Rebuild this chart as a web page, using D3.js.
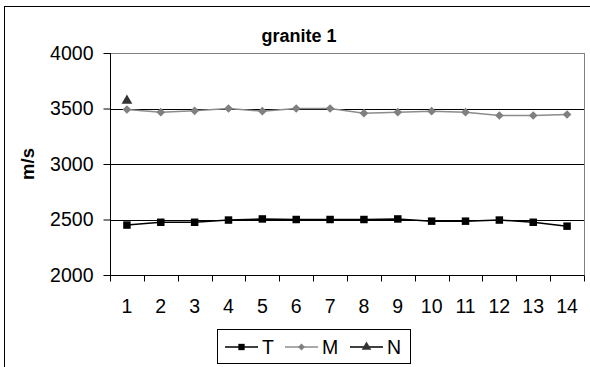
<!DOCTYPE html>
<html>
<head>
<meta charset="utf-8">
<script src="https://cdn.jsdelivr.net/npm/d3@7"></script>
<style>
  html, body { margin: 0; padding: 0; background: #fff; }
  svg { display: block; font-family: "Liberation Sans", Arial, sans-serif; }
</style>
</head>
<body>
<script>
// Sample positions along the granite block
const categories = ["1","2","3","4","5","6","7","8","9","10","11","12","13","14"];
// Wave velocities (m/s)
const seriesT = [2450, 2475, 2475, 2495, 2505, 2500, 2500, 2500, 2505, 2485, 2485, 2495, 2475, 2440];
const seriesM = [3491, 3467, 3479, 3500, 3476, 3500, 3500, 3458, 3467, 3476, 3467, 3437, 3437, 3446];
const seriesN = [3570];
const yTicks = [2000, 2500, 3000, 3500, 4000];
const seriesNames = ["T", "M", "N"];

const W = 590, H = 367;
const plot = { left: 110, top: 53, right: 584, bottom: 275 };

const svg = d3.select("body").append("svg").attr("width", W).attr("height", H);

// Outer chart border
svg.append("rect").attr("x", 4.5).attr("y", 6.5).attr("width", W + 10).attr("height", H + 10)
  .attr("fill", "#fff").attr("stroke", "#000").attr("stroke-width", 1);

const x = d3.scaleBand().domain(categories).range([plot.left, plot.right]);
const y = d3.scaleLinear().domain([2000, 4000]).range([plot.bottom, plot.top]);
const cx = c => x(c) + x.bandwidth() / 2;

// Plot area border
svg.append("rect").attr("x", plot.left + 0.5).attr("y", plot.top + 0.5)
  .attr("width", plot.right - plot.left).attr("height", plot.bottom - plot.top)
  .attr("fill", "none").attr("stroke", "#808080").attr("stroke-width", 1);

// Horizontal gridlines
svg.append("g").selectAll("line").data(yTicks.filter(t => t > 2000 && t < 4000)).join("line")
  .attr("x1", plot.left).attr("x2", plot.right)
  .attr("y1", d => Math.round(y(d)) + 0.5).attr("y2", d => Math.round(y(d)) + 0.5)
  .attr("stroke", "#000").attr("stroke-width", 1);

// Y axis
const yAxis = d3.axisLeft(y).tickValues(yTicks).tickSize(7).tickPadding(10).tickFormat(d3.format("d"));
const gy = svg.append("g").attr("transform", `translate(${plot.left + 0.5},0)`).call(yAxis);
gy.select(".domain").attr("stroke", "#000").attr("d", `M0,${plot.top}V${plot.bottom}`);
gy.selectAll(".tick line").attr("stroke", "#000");
gy.selectAll(".tick text").attr("font-size", "19.5px").attr("fill", "#000")
  .attr("font-family", "Liberation Sans, Arial, sans-serif");

// X axis: ticks at category boundaries, labels centred in each band
const gx = svg.append("g").attr("transform", `translate(0,${plot.bottom + 0.5})`);
gx.append("line").attr("x1", plot.left).attr("x2", plot.right).attr("stroke", "#000");
const bounds = categories.map(c => x(c)).concat([plot.right]);
gx.selectAll("line.tk").data(bounds).join("line").attr("class", "tk")
  .attr("x1", d => Math.round(d) + 0.5).attr("x2", d => Math.round(d) + 0.5)
  .attr("y1", 0).attr("y2", 6).attr("stroke", "#000");
gx.selectAll("text").data(categories).join("text")
  .attr("x", d => cx(d)).attr("y", 37).attr("text-anchor", "middle")
  .attr("font-size", "19.5px").attr("fill", "#000").text(d => d);

// Series lines
const line = d3.line().x((d, i) => cx(categories[i])).y(d => y(d));
svg.append("path").datum(seriesM).attr("d", line).attr("fill", "none")
  .attr("stroke", "#8c8c8c").attr("stroke-width", 1.5);
svg.append("path").datum(seriesT).attr("d", line).attr("fill", "none")
  .attr("stroke", "#000").attr("stroke-width", 1.5);

// Markers
const diamond = d3.symbol().type(d3.symbolDiamond2).size(48);
const square = d3.symbol().type(d3.symbolSquare).size(56);
const triangle = d3.symbol().type(d3.symbolTriangle).size(50);

svg.append("g").selectAll("path").data(seriesM).join("path")
  .attr("d", diamond).attr("fill", "#808080")
  .attr("transform", (d, i) => `translate(${cx(categories[i])},${y(d)})`);
svg.append("g").selectAll("path").data(seriesT).join("path")
  .attr("d", square).attr("fill", "#000")
  .attr("transform", (d, i) => `translate(${cx(categories[i])},${y(d)})`);
svg.append("g").selectAll("path").data(seriesN).join("path")
  .attr("d", triangle).attr("fill", "#333")
  .attr("transform", (d, i) => `translate(${cx(categories[i])},${y(d)})`);

// Title
svg.append("text").attr("x", 299).attr("y", 42).attr("text-anchor", "middle")
  .attr("font-size", "18px").attr("font-weight", "bold").text("granite 1");

// Y axis title
svg.append("text").attr("transform", "translate(34,164) rotate(-90)").attr("text-anchor", "middle")
  .attr("font-size", "18.5px").attr("font-weight", "bold").text("m/s");

// Legend
const lg = svg.append("g");
lg.append("rect").attr("x", 217.5).attr("y", 329.5).attr("width", 193).attr("height", 34)
  .attr("fill", "#fff").attr("stroke", "#000");
const legendItems = [
  { name: seriesNames[0], color: "#000", sym: d3.symbol().type(d3.symbolSquare).size(40), fill: "#000", x0: 225 },
  { name: seriesNames[1], color: "#8c8c8c", sym: d3.symbol().type(d3.symbolDiamond2).size(30), fill: "#808080", x0: 285 },
  { name: seriesNames[2], color: "#000", sym: d3.symbol().type(d3.symbolTriangle).size(40), fill: "#333", x0: 350 }
];
legendItems.forEach(it => {
  const g = lg.append("g").attr("transform", `translate(${it.x0},347)`);
  g.append("line").attr("x1", 0).attr("x2", 33).attr("stroke", it.color).attr("stroke-width", 1.5);
  g.append("path").attr("d", it.sym).attr("fill", it.fill).attr("transform", "translate(16.5,0)");
  g.append("text").attr("x", 37).attr("y", 7).attr("font-size", "19.5px").text(it.name);
});
</script>
</body>
</html>
